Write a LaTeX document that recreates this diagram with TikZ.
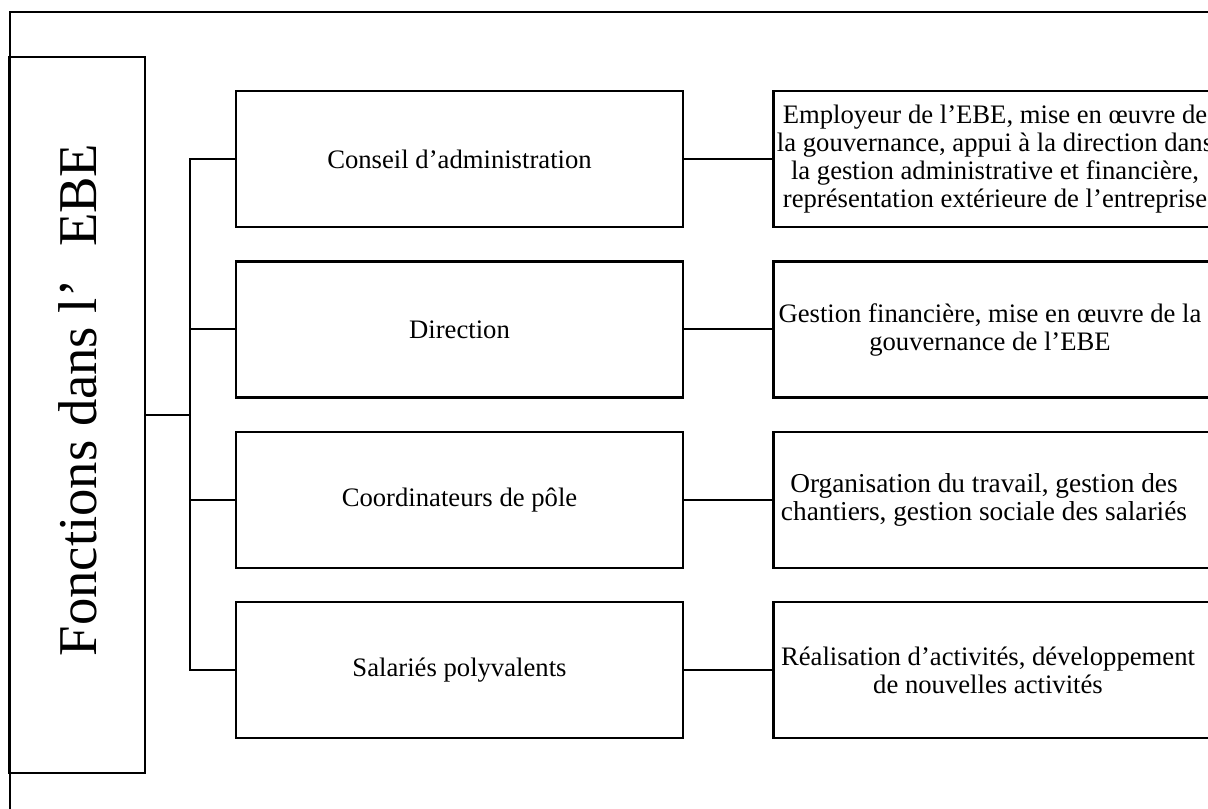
\documentclass[tikz,border=0pt]{standalone}
\usepackage{fontspec}
\setmainfont{Liberation Serif}
\usetikzlibrary{positioning,calc}

\tikzset{
  boite/.style={draw,line width=1.9pt,minimum width=0.75*447pt,minimum height=0.75*136pt,inner sep=0pt},
  desc/.style={draw,line width=1.9pt,minimum width=0.75*470pt,minimum height=0.75*136pt,inner sep=0pt,anchor=west},
  texte/.style={align=center,font=\fontsize{20}{21}\selectfont},
  lien/.style={line width=1.5pt}
}

\begin{document}
\begin{tikzpicture}[x=0.75pt,y=-0.75pt]
  \useasboundingbox (0,0) rectangle (1208,809);
  \clip (0,0) rectangle (1208,809);
  % cadre
  \draw[line width=1.5pt] (10,830) -- (10,12) -- (1230,12);

  \node[draw,line width=1.9pt,minimum width=0.75*136pt,minimum height=0.75*716pt,inner sep=0pt] (ebe) at (77,415) {};
  \node[rotate=90,font=\fontsize{41}{43}\selectfont] (titre) at (78,400) {Fonctions dans l’\hspace{0.6em}EBE};

  \coordinate (bus) at (190,415);

  \node[boite,texte] (ca) at (459.5,159) {Conseil d’administration};
  \node[boite,texte] (dir) at (459.5,329.5) {Direction};
  \node[boite,texte] (coord) at (459.5,500) {Coordinateurs de pôle};
  \node[boite,texte] (sal) at (459.5,670) {Salariés polyvalents};

  \node[desc] (dca) at (772,159) {};
  \node[desc] (ddir) at (772,329.5) {};
  \node[desc] (dcoord) at (772,500) {};
  \node[desc] (dsal) at (772,670) {};

  \node[texte] (tca) at (995,159) {Employeur de l’EBE, mise en œuvre de\\la gouvernance, appui à la direction dans\\la gestion administrative et financière,\\représentation extérieure de l’entreprise};
  \node[texte] (tdir) at (990,329.5) {Gestion financière, mise en œuvre de la\\gouvernance de l’EBE};
  \node[texte,font=\fontsize{20.5}{21}\selectfont] (tcoord) at (984,500) {Organisation du travail, gestion des\\chantiers, gestion sociale des salariés};
  \node[texte] (tsal) at (988,670) {Réalisation d’activités, développement\\de nouvelles activités};

  % liaisons
  \draw[lien] (ebe.east) -- (bus);
  \draw[lien] (ca.west) -| (bus) |- (sal.west);
  \draw[lien] (dir.west) -- (dir.west -| bus);
  \draw[lien] (coord.west) -- (coord.west -| bus);
  \draw[lien] (ca) -- (dca);
  \draw[lien] (dir) -- (ddir);
  \draw[lien] (coord) -- (dcoord);
  \draw[lien] (sal) -- (dsal);
\end{tikzpicture}
\end{document}
